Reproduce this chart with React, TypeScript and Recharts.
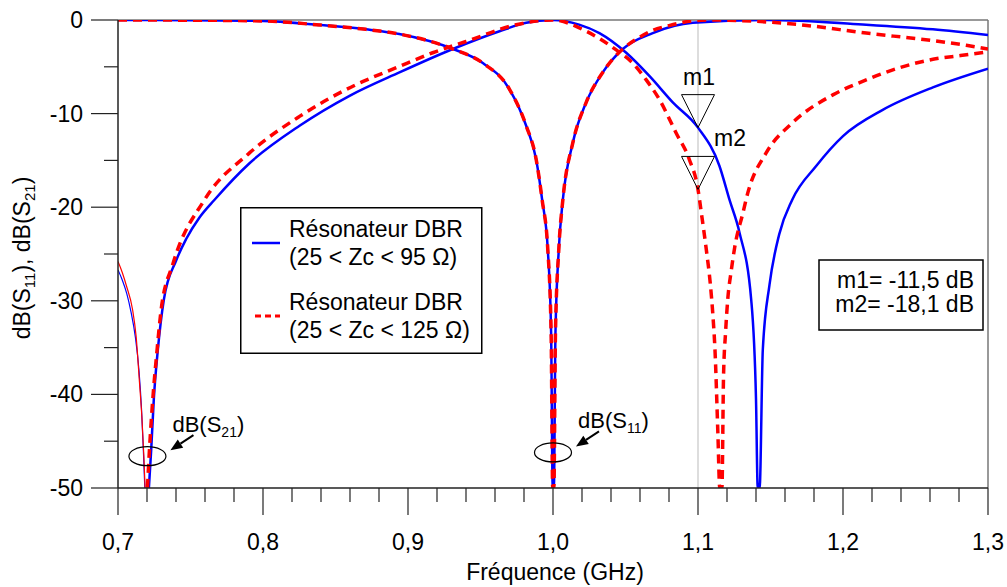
import React from "react";
import { LineChart, Line, XAxis, YAxis, ReferenceLine, ReferenceDot, Legend } from "recharts";

const FONT = '"Liberation Sans", Arial, Helvetica, sans-serif';
const BLUE = "#0000ff";
const RED = "#ff0000";

// dB(S21), 25 < Zc < 95 ohm : thin branch left of the 0.72 GHz zero
const s21Blue95TailFreq = [0.7, 0.703, 0.706, 0.709, 0.712, 0.7145, 0.7162, 0.7175, 0.7185];
const s21Blue95TailDb = [-26.7, -27.8, -29.2, -31.2, -33.9, -37.5, -41.5, -46.0, -50];

// dB(S21), 25 < Zc < 125 ohm : thin branch left of the 0.72 GHz zero
const s21Red125TailFreq = [0.7, 0.703, 0.706, 0.71, 0.7125, 0.7148, 0.7165, 0.7178, 0.7187];
const s21Red125TailDb = [-25.8, -27.0, -28.5, -30.9, -33.8, -38.7, -42.5, -46.5, -50];

// dB(S21), 25 < Zc < 95 ohm
const s21Blue95Freq = [
  0.7213, 0.7229, 0.7247, 0.7275, 0.7316, 0.7401, 0.747, 0.7562, 0.7666, 0.7907, 0.8252, 0.8597,
  0.8941, 0.9309, 0.9631, 0.9815, 1.0, 1.018, 1.032, 1.0505, 1.0666, 1.0826, 1.1, 1.1148, 1.1217,
  1.1286, 1.1367, 1.14, 1.1412, 1.1425, 1.1447, 1.1493, 1.156, 1.165, 1.1815, 1.2, 1.2274, 1.262, 1.3,
];
const s21Blue95Db = [
  -50, -45.9, -40.5, -35.2, -29.9, -25.7, -23.4, -21.1, -19.2, -15.3, -11.3, -8.1,
  -5.6, -3.1, -1.2, -0.3, 0, -0.5, -1.4, -3.5, -6.0, -8.8, -11.5, -15.6, -19.2,
  -22.7, -29.9, -40.5, -50, -50, -35.2, -28.3, -22.9, -19.2, -15.6, -12.4, -9.6, -7.2, -5.2,
];

// dB(S21), 25 < Zc < 125 ohm
const s21Red125Freq = [
  0.7203, 0.7217, 0.724, 0.7268, 0.7298, 0.7378, 0.7597, 0.7907, 0.8252, 0.8643, 0.8919, 0.917,
  0.94, 0.9746, 1.0, 1.0229, 1.0436, 1.055, 1.0643, 1.0734, 1.085, 1.094, 1.1, 1.1023, 1.1057,
  1.1085, 1.1103, 1.1117, 1.1137, 1.115, 1.1165, 1.1176, 1.119, 1.1205, 1.123, 1.1253, 1.131,
  1.1343, 1.147, 1.165, 1.193, 1.216, 1.239, 1.262, 1.281, 1.3,
];
const s21Red125Db = [
  -50, -45.9, -40.5, -35.5, -30.9, -26.1, -19.2, -14.2, -10.3, -6.9, -5.1, -3.5,
  -2.3, -0.5, 0, -1.2, -3.2, -4.6, -6.4, -8.5, -12.1, -14.9, -18.1, -20.6, -24.5,
  -28.2, -31.6, -35.2, -44.1, -50, -50, -38.1, -33.4, -29.9, -26.7, -24.3, -20.6,
  -18.5, -14.2, -11.0, -8.0, -6.4, -5.1, -4.2, -3.8, -3.4,
];

// dB(S11), 25 < Zc < 95 ohm
const s11Blue95Freq = [
  0.7, 0.75, 0.8, 0.8367, 0.871, 0.894, 0.931, 0.9516, 0.97, 0.9815, 0.9884, 0.9925, 0.9964,
  0.9987, 0.9998, 1.0006, 1.0017, 1.004, 1.0068, 1.0137, 1.0229, 1.0343, 1.0481, 1.0688, 1.0964,
  1.147, 1.216, 1.262, 1.3,
];
const s11Blue95Db = [
  0, -0.02, -0.1, -0.5, -1.0, -1.5, -3.1, -4.6, -7.4, -11.3, -14.9, -19.2, -24.5,
  -33.4, -50, -50, -33.4, -24.5, -19.2, -13.1, -8.8, -5.6, -3.1, -1.4, -0.3,
  0, -0.5, -1.0, -1.6,
];

// dB(S11), 25 < Zc < 125 ohm
const s11Red125Freq = [
  0.7, 0.75, 0.8, 0.8367, 0.871, 0.894, 0.931, 0.9516, 0.97, 0.9815, 0.9884, 0.9925, 0.9964,
  0.9987, 0.9998, 1.0006, 1.0017, 1.004, 1.0068, 1.0137, 1.0229, 1.0343, 1.0481, 1.058, 1.0688,
  1.08, 1.0964, 1.11, 1.17, 1.216, 1.262, 1.285, 1.3,
];
const s11Red125Db = [
  0, -0.02, -0.1, -0.5, -1.0, -1.5, -3.1, -4.6, -7.4, -11.3, -14.9, -19.2, -24.5,
  -33.4, -50, -50, -33.4, -24.5, -19.2, -13.1, -8.8, -5.6, -3.1, -2.0, -1.1,
  -0.6, -0.1, 0, -0.5, -1.4, -2.2, -2.7, -3.1,
];

const xMajorTicks = [0.7, 0.8, 0.9, 1.0, 1.1, 1.2, 1.3];
const yTicks = [0, -5, -10, -15, -20, -25, -30, -35, -40, -45, -50];
// minor ticks every 0.02 GHz between the labelled ones
const xTicks = xMajorTicks.flatMap((t, i) =>
  i === xMajorTicks.length - 1 ? [t] : [t, t + 0.02, t + 0.04, t + 0.06, t + 0.08]
);

const markers = [
  { name: "m1", freq: 1.1, db: -11.5, labelDx: 1, anchor: "middle" },
  { name: "m2", freq: 1.1, db: -18.1, labelDx: 16, anchor: "start" },
];

const callouts = [
  { sub: "21", freq: 0.7203, db: -46.6 },
  { sub: "11", freq: 1.0, db: -46.2 },
];

const legendItems = [
  { line1: "Résonateur DBR", line2: "(25 < Zc < 95 Ω)", color: BLUE, dash: undefined },
  { line1: "Résonateur DBR", line2: "(25 < Zc < 125 Ω)", color: RED, dash: "6 4" },
];

const toPoints = (f: number[], db: number[]) => f.map((x, i) => ({ x, y: db[i] }));

function XTick({ x, y, payload }: any) {
  const v = payload.value;
  const major = Math.abs(v * 10 - Math.round(v * 10)) < 1e-6;
  return (
    <g>
      <line x1={x} x2={x} y1={y} y2={y + (major ? 27 : 14)} stroke="#222" strokeWidth={1.2} />
      {major && (
        <text x={x} y={y + 62} textAnchor="middle" fontSize={23} fill="#000" fontFamily={FONT}>
          {v.toFixed(1).replace(".", ",")}
        </text>
      )}
    </g>
  );
}

function YTick({ x, y, payload }: any) {
  const v = payload.value;
  const major = v % 10 === 0;
  return (
    <g>
      <line x1={x - (major ? 27 : 14)} x2={x} y1={y} y2={y} stroke="#222" strokeWidth={1.2} />
      {major && (
        <text x={x - 35} y={y + 8} textAnchor="end" fontSize={23} fill="#000" fontFamily={FONT}>
          {String(v)}
        </text>
      )}
    </g>
  );
}

function XTitle(props: any) {
  const vb = props.viewBox;
  return (
    <text x={vb.x + vb.width / 2 + 2} y={vb.y + 92} textAnchor="middle" fontSize={23} fill="#000" fontFamily={FONT}>
      Fréquence (GHz)
    </text>
  );
}

function YTitle(props: any) {
  const vb = props.viewBox;
  const cx = 30;
  const cy = vb.y + vb.height / 2 + 4;
  return (
    <text x={cx} y={cy} transform={`rotate(-90, ${cx}, ${cy})`} textAnchor="middle" fontSize={23} fill="#000" fontFamily={FONT}>
      dB(S<tspan fontSize={15} dy={5}>11</tspan>
      <tspan dy={-5}>), dB(S</tspan>
      <tspan fontSize={15} dy={5}>21</tspan>
      <tspan dy={-5}>)</tspan>
    </text>
  );
}

const markerShape = (m: any) => (props: any) => {
  const { cx, cy } = props;
  return (
    <g>
      <polygon points={`${cx - 16.5},${cy - 33} ${cx + 16.5},${cy - 33} ${cx},${cy}`} fill="none" stroke="#000" strokeWidth={1} />
      <text x={cx + m.labelDx} y={cy - 43} textAnchor={m.anchor} fontSize={23} fill="#000" fontFamily={FONT}>
        {m.name}
      </text>
    </g>
  );
};

const calloutShape = (c: any) => (props: any) => {
  const { cx, cy } = props;
  const tx = cx + 46, ty = cy - 21;
  const hx = cx + 23, hy = cy - 6;
  const len = Math.hypot(hx - tx, hy - ty);
  const ux = (hx - tx) / len, uy = (hy - ty) / len;
  const bx = hx - ux * 12, by = hy - uy * 12;
  return (
    <g>
      <ellipse cx={cx} cy={cy} rx={18.5} ry={9.5} fill="none" stroke="#000" strokeWidth={1.2} />
      <line x1={tx} y1={ty} x2={bx} y2={by} stroke="#000" strokeWidth={2} />
      <polygon points={`${hx},${hy} ${bx - uy * 5},${by + ux * 5} ${bx + uy * 5},${by - ux * 5}`} fill="#000" />
      <text x={cx + 25} y={cy - 24} fontSize={22} fill="#000" fontFamily={FONT}>
        dB(S<tspan fontSize={14} dy={5}>{c.sub}</tspan>
        <tspan dy={-5}>)</tspan>
      </text>
    </g>
  );
};

function LegendBox() {
  return (
    <svg width={243} height={148} style={{ display: "block" }}>
      <rect x={0.75} y={0.75} width={241} height={145.5} fill="#fff" stroke="#000" strokeWidth={1.5} />
      {legendItems.map((it, i) => {
        const top = i * 73;
        return (
          <g key={i}>
            <line x1={12 + (it.dash ? 3 : 0)} x2={40} y1={top + 36} y2={top + 36} stroke={it.color} strokeWidth={it.dash ? 3 : 2.5} strokeDasharray={it.dash} />
            <text x={49} y={top + 30} fontSize={23} fill="#000" fontFamily={FONT}>{it.line1}</text>
            <text x={49} y={top + 58} fontSize={23} fill="#000" fontFamily={FONT}>{it.line2}</text>
          </g>
        );
      })}
    </svg>
  );
}

export default function App() {
  return (
    <div style={{ position: "absolute", left: 0, top: 0, width: 1007, height: 587, background: "#fff", fontFamily: FONT }}>
      <LineChart width={1007} height={587} margin={{ top: 20, right: 19, bottom: 0, left: 0 }}>
        <XAxis
          type="number"
          dataKey="x"
          domain={[0.7, 1.3]}
          ticks={xTicks}
          interval={0}
          tick={<XTick />}
          tickLine={false}
          tickSize={0}
          tickMargin={0}
          height={99}
          axisLine={{ stroke: "#222", strokeWidth: 1.5 }}
          allowDataOverflow
          label={<XTitle />}
        />
        <YAxis
          type="number"
          dataKey="y"
          domain={[-50, 0]}
          ticks={yTicks}
          interval={0}
          tick={<YTick />}
          tickLine={false}
          tickSize={0}
          tickMargin={0}
          width={118}
          axisLine={{ stroke: "#222", strokeWidth: 1.5 }}
          allowDataOverflow
          label={<YTitle />}
        />
        <ReferenceLine y={0} stroke="#777" strokeWidth={1.5} />
        <ReferenceLine x={1.3} stroke="#777" strokeWidth={1.5} />
        <ReferenceLine x={1.1} stroke="#bbb" strokeWidth={1} />

        <Line data={toPoints(s21Blue95TailFreq, s21Blue95TailDb)} dataKey="y" type="monotone" stroke={BLUE} strokeWidth={1.2} dot={false} activeDot={false} isAnimationActive={false} />
        <Line data={toPoints(s21Blue95Freq, s21Blue95Db)} dataKey="y" type="monotone" stroke={BLUE} strokeWidth={2.5} dot={false} activeDot={false} isAnimationActive={false} />
        <Line data={toPoints(s11Blue95Freq, s11Blue95Db)} dataKey="y" type="monotone" stroke={BLUE} strokeWidth={2.5} dot={false} activeDot={false} isAnimationActive={false} />
        <Line data={toPoints(s21Red125TailFreq, s21Red125TailDb)} dataKey="y" type="monotone" stroke={RED} strokeWidth={1.2} dot={false} activeDot={false} isAnimationActive={false} />
        <Line data={toPoints(s21Red125Freq, s21Red125Db)} dataKey="y" type="monotone" stroke={RED} strokeWidth={3.5} strokeDasharray="9 6" dot={false} activeDot={false} isAnimationActive={false} />
        <Line data={toPoints(s11Red125Freq, s11Red125Db)} dataKey="y" type="monotone" stroke={RED} strokeWidth={3.5} strokeDasharray="9 6" dot={false} activeDot={false} isAnimationActive={false} />

        {markers.map((m) => (
          <ReferenceDot key={m.name} x={m.freq} y={m.db} r={0} ifOverflow="visible" shape={markerShape(m)} />
        ))}
        {callouts.map((c) => (
          <ReferenceDot key={c.sub} x={c.freq} y={c.db} r={0} ifOverflow="visible" shape={calloutShape(c)} />
        ))}

        <Legend
          layout="vertical"
          align="center"
          verticalAlign="middle"
          content={() => <LegendBox />}
          wrapperStyle={{ left: 240, top: 207, width: 243, height: 148 }}
        />
      </LineChart>

      <svg width={166} height={72} style={{ position: "absolute", left: 818, top: 259 }}>
        <rect x={1} y={1} width={164} height={70} fill="#fff" stroke="#000" strokeWidth={1.5} />
        <text x={156} y={29} textAnchor="end" fontSize={23} fill="#000" fontFamily={FONT}>m1= -11,5 dB</text>
        <text x={156} y={53} textAnchor="end" fontSize={23} fill="#000" fontFamily={FONT}>m2= -18,1 dB</text>
      </svg>
    </div>
  );
}
